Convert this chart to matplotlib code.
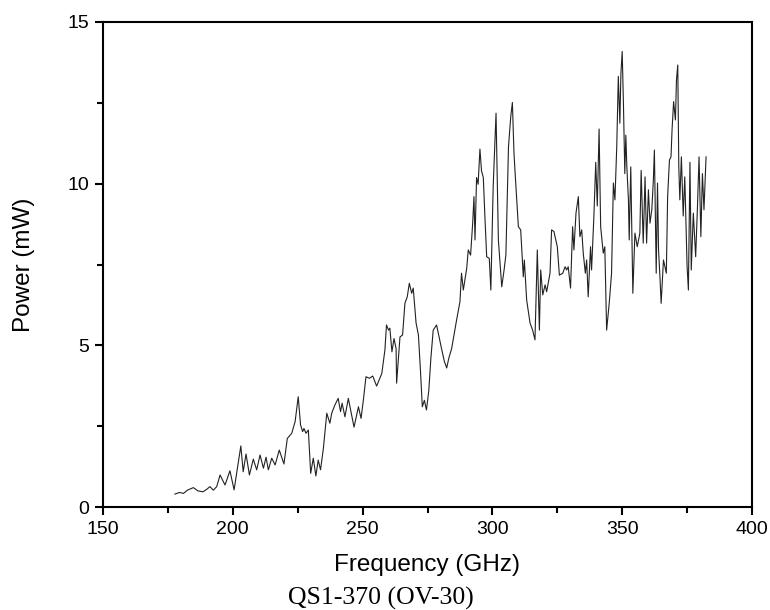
import matplotlib
matplotlib.use("Agg")
import matplotlib.pyplot as plt
from matplotlib.ticker import MultipleLocator

freq = [177.7, 179.5, 181.0, 182.5, 184.8, 186.5, 188.5, 190.0, 191.2, 192.5,
        193.8, 195.1, 197.0, 198.9, 200.5, 201.7, 203.1, 204.0, 205.1, 206.4,
        207.9, 209.2, 210.5, 211.8, 212.8, 213.7, 215.0, 216.3, 217.9, 219.7,
        221.0, 222.7, 224.0, 225.2, 226.1, 226.9, 227.4, 228.2, 229.1, 230.0,
        231.0, 232.0, 232.9, 233.8, 234.9, 236.2, 237.4, 238.1, 239.3, 240.6,
        241.5, 242.1, 243.2, 244.5, 246.7, 248.4, 249.4, 250.3, 251.3, 252.6,
        253.9, 255.4, 257.4, 258.6, 259.2, 260.0, 260.5, 261.3, 262.1, 262.9,
        263.1, 264.4, 265.4, 266.3, 267.2, 268.0, 268.9, 269.5, 270.6, 271.5,
        272.3, 273.0, 273.8, 274.6, 275.5, 276.3, 277.2, 278.5, 280.4, 281.5,
        282.4, 283.2, 284.3, 286.2, 287.5, 288.1, 288.8, 290.1, 290.7, 291.6,
        292.4, 292.9, 293.3, 293.9, 294.5, 295.2, 295.8, 296.5, 297.1, 297.8,
        298.8, 299.4, 300.3, 301.4, 302.3, 303.6, 304.5, 305.2, 306.2, 307.1,
        307.7, 308.3, 308.7, 310.0, 310.9, 311.9, 312.3, 313.2, 314.5, 315.5,
        316.4, 317.3, 318.1, 318.6, 319.4, 320.3, 320.9, 322.2, 322.8, 323.7,
        325.0, 325.8, 327.1, 328.0, 328.6, 329.2, 330.1, 330.9, 331.4, 332.2,
        333.1, 333.7, 334.4, 335.0, 335.8, 336.3, 336.9, 337.8, 338.2, 339.1,
        339.8, 340.4, 341.1, 341.7, 342.7, 343.3, 344.0, 345.0, 345.9, 346.6,
        347.2, 347.9, 348.5, 349.1, 349.5, 350.0, 350.5, 351.0, 351.4, 351.8,
        352.4, 352.7, 353.3, 354.1, 354.9, 355.8, 356.8, 357.3, 358.1, 358.8,
        359.4, 360.1, 360.7, 361.4, 362.0, 362.4, 363.1, 363.6, 364.0, 364.6,
        365.0, 365.9, 367.0, 367.5, 368.2, 368.8, 369.2, 369.8, 370.5, 370.9,
        371.4, 371.8, 372.2, 372.8, 373.5, 374.1, 375.0, 375.5, 376.1, 376.6,
        377.4, 378.3, 379.0, 379.6, 380.3, 380.9, 381.5, 382.3]

power = [0.40, 0.45, 0.42, 0.52, 0.60, 0.50, 0.47, 0.55, 0.63, 0.52,
         0.63, 0.99, 0.68, 1.12, 0.53, 1.15, 1.89, 1.09, 1.64, 0.99,
         1.48, 1.15, 1.61, 1.20, 1.54, 1.15, 1.51, 1.30, 1.76, 1.33,
         2.12, 2.28, 2.64, 3.41, 2.54, 2.33, 2.43, 2.28, 2.38, 1.04,
         1.51, 0.96, 1.45, 1.15, 1.82, 2.90, 2.59, 2.90, 3.15, 3.36,
         2.95, 3.21, 2.79, 3.36, 2.47, 3.10, 2.74, 3.31, 4.03, 3.98,
         4.05, 3.74, 4.13, 4.86, 5.63, 5.47, 5.53, 4.80, 5.21, 4.90,
         3.83, 5.26, 5.32, 6.30, 6.50, 6.92, 6.61, 6.77, 5.69, 5.32,
         4.20, 3.10, 3.30, 3.00, 3.60, 4.60, 5.47, 5.63, 4.90, 4.50,
         4.30, 4.60, 4.90, 5.78, 6.35, 7.23, 6.71, 7.38, 7.95, 7.79,
         8.78, 9.60, 8.26, 10.19, 9.98, 11.07, 10.40, 10.19, 9.00, 7.74,
         7.69, 6.71, 9.91, 12.18, 8.26, 6.81, 7.33, 7.80, 11.15, 12.10,
         12.51, 10.97, 10.40, 8.67, 8.57, 7.12, 7.64, 6.40, 5.69, 5.47,
         5.17, 7.95, 5.47, 7.33, 6.56, 6.87, 6.66, 7.23, 8.57, 8.52,
         8.05, 7.17, 7.23, 7.43, 7.33, 7.43, 6.77, 8.67, 7.95, 9.09,
         9.60, 8.36, 8.57, 7.85, 7.23, 7.64, 6.50, 8.05, 7.33, 9.00,
         10.66, 9.31, 11.69, 8.67, 7.85, 8.05, 5.47, 6.30, 7.23, 10.02,
         9.50, 11.14, 13.32, 11.87, 13.40, 14.09, 12.38, 10.31, 11.50, 10.50,
         9.50, 8.26, 10.52, 6.61, 8.47, 8.05, 8.47, 10.41, 8.16, 10.21,
         8.16, 9.81, 8.78, 9.19, 10.10, 11.04, 7.23, 10.02, 7.95, 7.02,
         6.30, 7.64, 7.23, 9.60, 10.73, 10.83, 11.66, 12.54, 11.97, 13.20,
         13.67, 10.52, 9.50, 10.83, 9.00, 10.21, 7.43, 6.71, 10.66, 7.33,
         9.09, 7.74, 9.31, 10.83, 8.36, 10.31, 9.19, 10.83]

xlabel = "Frequency (GHz)"
ylabel = "Power (mW)"
caption = "QS1-370 (OV-30)"

plt.rcParams['font.family'] = ['Liberation Sans', 'DejaVu Sans']

fig = plt.figure(figsize=(7.7, 6.1), dpi=100)
ax = fig.add_axes([103/770, 1 - 507/610, 649/770, 485/610])
ax.plot(freq, power, color='#222222', linewidth=0.8)

ax.set_xlim(150, 400)
ax.set_ylim(0, 15)
ax.xaxis.set_major_locator(MultipleLocator(50))
ax.xaxis.set_minor_locator(MultipleLocator(25))
ax.yaxis.set_major_locator(MultipleLocator(5))
ax.yaxis.set_minor_locator(MultipleLocator(2.5))
ax.tick_params(which='both', direction='out', top=False, right=False, width=1.5,
               labelsize=14, color='black')
ax.tick_params(which='major', length=6, pad=4)
ax.tick_params(which='minor', length=4)
for s in ax.spines.values():
    s.set_linewidth(1.5)

ax.set_xlabel(xlabel, fontsize=17.5)
ax.set_ylabel(ylabel, fontsize=17.5)
ax.xaxis.set_label_coords(0.5, -0.097)
ax.yaxis.set_label_coords(-0.105, 0.5)

fig.text(381/770, 1 - 598/610, caption, ha='center', va='center',
         fontsize=18.5, family='Liberation Serif')

fig.savefig("out.png", dpi=100)
